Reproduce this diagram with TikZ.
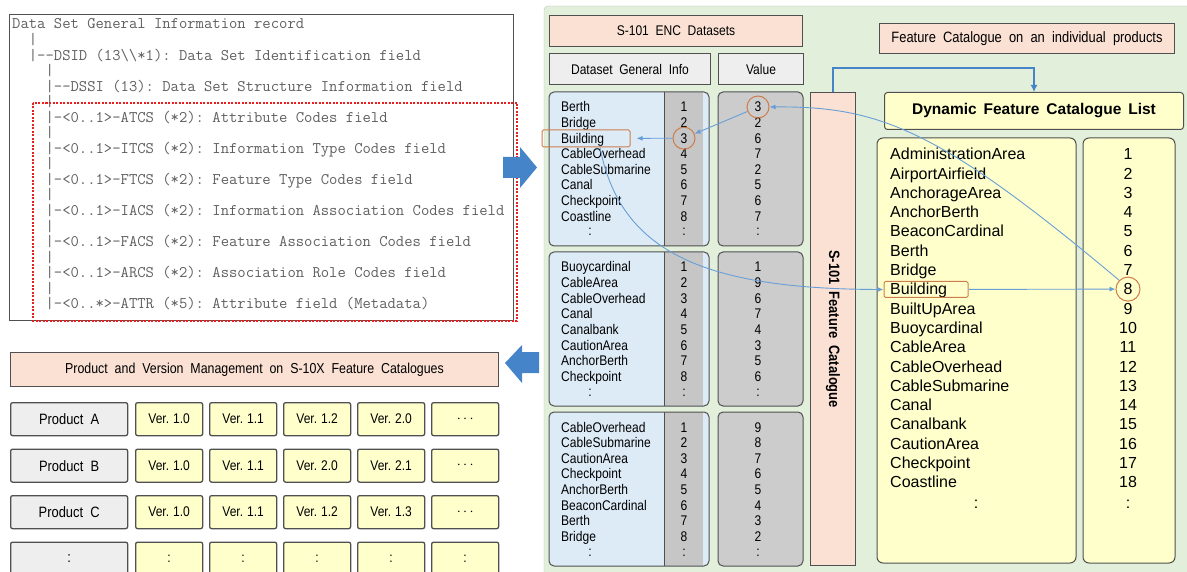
\documentclass[tikz,border=0pt]{standalone}
\usepackage{fontspec}
\newfontfamily\narrowsf[FakeStretch=0.86,WordSpace=2]{Liberation Sans}
\newfontfamily\listsf[WordSpace=1.6]{Liberation Sans}
\usetikzlibrary{calc,arrows.meta}
\frenchspacing

\definecolor{rimgray}{RGB}{80,80,80}
\definecolor{monogray}{RGB}{95,95,95}
\definecolor{alertred}{RGB}{235,30,30}
\definecolor{salmon}{RGB}{250,225,212}
\definecolor{paper}{RGB}{238,238,238}
\definecolor{iceblue}{RGB}{221,235,247}
\definecolor{idxgray}{RGB}{198,198,198}
\definecolor{valgray}{RGB}{204,204,204}
\definecolor{butter}{RGB}{255,255,204}
\definecolor{mint}{RGB}{226,239,218}
\definecolor{linkblue}{RGB}{105,158,215}
\definecolor{feedblue}{RGB}{70,132,202}
\definecolor{rust}{RGB}{205,125,75}

\begin{document}
\begin{tikzpicture}[x=1pt,y=-1pt,
    mono/.style={anchor=west, inner sep=0pt, text height=9.9pt, text depth=0pt, text=monogray,
      font=\ttfamily\fontsize{16.2}{16}\selectfont},
    tagbox/.style={draw=rimgray, line width=1pt, inner sep=0pt, anchor=north west,
      font=\narrowsf\fontsize{14}{14}\selectfont},
    hdr/.style={tagbox, fill=salmon},
    colhdr/.style={tagbox, fill=paper},
    prod/.style={tagbox, fill=paper, rounded corners=2pt, line width=1.3pt,
      minimum width=117, minimum height=33, font=\narrowsf\fontsize{15}{15}\selectfont},
    ver/.style={prod, fill=butter, minimum width=67, font=\narrowsf\fontsize{14}{14}\selectfont},
    dsname/.style={anchor=west, inner sep=0pt, text height=10pt, text depth=0pt,
      font=\narrowsf\fontsize{14}{14}\selectfont},
    dsnum/.style={dsname, anchor=center},
    catname/.style={dsname, text height=11.5pt, font=\listsf\fontsize{16}{16}\selectfont},
    catnum/.style={catname, anchor=center},
    ring/.style={circle, draw=rust, line width=1pt, minimum size=22},
    markbox/.style={draw=rust, line width=1pt, rounded corners=1.5pt, inner sep=0pt},
    conn/.style={linkblue, line width=0.9pt, -{Latex[length=6pt,width=5pt]}},
    feed/.style={feedblue, line width=2.4pt, -{Latex[length=7pt,width=7pt]}}
  ]
  \useasboundingbox (0,0) rectangle (1187,572);

  % record structure
  \draw[rimgray, line width=0.8pt] (9,14) rectangle (513,320);
  \foreach \ln [count=\i from 0] in {
      {Data Set General Information record},
      {~~|},
      {~~|--DSID (13\textbackslash\textbackslash*1): Data Set Identification field},
      {~~~~|},
      {~~~~|--DSSI (13): Data Set Structure Information field},
      {~~~~|},
      {~~~~|-<0..1>-ATCS (*2): Attribute Codes field},
      {~~~~|},
      {~~~~|-<0..1>-ITCS (*2): Information Type Codes field},
      {~~~~|},
      {~~~~|-<0..1>-FTCS (*2): Feature Type Codes field},
      {~~~~|},
      {~~~~|-<0..1>-IACS (*2): Information Association Codes field},
      {~~~~|},
      {~~~~|-<0..1>-FACS (*2): Feature Association Codes field},
      {~~~~|},
      {~~~~|-<0..1>-ARCS (*2): Association Role Codes field},
      {~~~~|},
      {~~~~|-<0..*>-ATTR (*5): Attribute field (Metadata)}}
    \node[mono] (rec\i) at (12,{24+15.55*\i}) {\ln};
  \draw[alertred, line width=1.1pt, dash pattern=on 2pt off 1.5pt] (33,103) rectangle (517,321);

  % block arrows
  \fill[feedblue] (503,157) -- (520,157) -- (520,147) -- (537,167.5) -- (520,188)
    -- (520,178) -- (503,178) -- cycle;
  \fill[feedblue] (505,363) -- (522,345) -- (522,352) -- (539,352) -- (539,373)
    -- (522,373) -- (522,383) -- cycle;

  % products and versions
  \node[hdr, minimum width=488, minimum height=34, font=\narrowsf\fontsize{14.4}{14}\selectfont]
    (pvm) at (10,352) {Product and Version Management on S-10X Feature Catalogues};
  \foreach \p/\vs [count=\r from 0] in {A/{1.0,1.1,1.2,2.0}, B/{1.0,1.1,2.0,2.1}, C/{1.0,1.1,1.2,1.3}} {
    \node[prod] (prod\p) at (10,{402+46.5*\r}) {Product \p};
    \foreach \v [count=\c from 0] in \vs
      \node[ver] (ver\p\c) at ({135+74*\c},{402+46.5*\r}) {Ver.\hspace{4pt}\v};
    \node[ver] (more\p) at (431,{402+46.5*\r}) {$\cdots$};
  }
  \node[prod] (prodx) at (10,541.5) {:};
  \foreach \c in {0,...,4}
    \node[ver] (verx\c) at ({135+74*\c},541.5) {:};

  % dataset panel
  \draw[black!25, fill=mint, rounded corners=4pt] (544,6) rectangle (1195,580);
  \node[hdr, minimum width=253, minimum height=31] (enc) at (549,15) {S-101 ENC Datasets};
  \node[colhdr, minimum width=161, minimum height=31] (dgi) at (549,53) {Dataset General Info};
  \node[colhdr, minimum width=85, minimum height=31] (val) at (718,53) {Value};

  \foreach \names/\vals [count=\b from 0] in {
      {Berth,Bridge,Building,CableOverhead,CableSubmarine,Canal,Checkpoint,Coastline}/{3,2,6,7,2,5,6,7},
      {Buoycardinal,CableArea,CableOverhead,Canal,Canalbank,CautionArea,AnchorBerth,Checkpoint}/{1,9,6,7,4,3,5,6},
      {CableOverhead,CableSubmarine,CautionArea,Checkpoint,AnchorBerth,BeaconCardinal,Berth,Bridge}/{9,8,7,6,5,4,3,2}} {
    \pgfmathsetmacro\yb{92+160*\b}
    \fill[iceblue, rounded corners=5pt] (549,\yb) rectangle (709,{\yb+154});
    \fill[idxgray] (664,\yb) rectangle (703,{\yb+154});
    \draw[rimgray, line width=0.6pt] (664,\yb) -- (664,{\yb+154});
    \draw[rimgray, line width=1pt, rounded corners=5pt] (549,\yb) rectangle (709,{\yb+154});
    \draw[rimgray, line width=1pt, rounded corners=5pt, fill=valgray] (718,\yb) rectangle (803,{\yb+154});
    \foreach \n [count=\k] in \names {
      \node[dsname] (nm\b\k) at (561,{\yb+15.6*\k-0.6}) {\n};
      \node[dsnum] (ix\b\k) at (684,{\yb+15.6*\k-0.6}) {\k};
    }
    \foreach \v [count=\k] in \vals
      \node[dsnum] (vl\b\k) at (758,{\yb+15.6*\k-0.6}) {\v};
    \node[dsnum] (nmdots\b) at (590,{\yb+139}) {:};
    \node[dsnum] (ixdots\b) at (684,{\yb+139}) {:};
    \node[dsnum] (vldots\b) at (758,{\yb+139}) {:};
  }

  \node[hdr, minimum width=45, minimum height=473] (fc) at (810,92) {};
  \node[rotate=-90, font=\narrowsf\bfseries\fontsize{15}{15}\selectfont] (fclabel) at (fc.center)
    {S-101 Feature Catalogue};

  % catalogue on the products
  \node[hdr, minimum width=295, minimum height=30, font=\narrowsf\fontsize{15}{15}\selectfont]
    (fcip) at (879,23) {Feature Catalogue on an individual products};
  \node[tagbox, fill=butter, rounded corners=3pt, minimum width=299, minimum height=37,
    font=\listsf\bfseries\fontsize{15.5}{16}\selectfont] (dfcl) at (884,92) {Dynamic Feature Catalogue List};
  \draw[rimgray, line width=1pt, fill=butter, rounded corners=6pt] (877,138) rectangle (1076,563);
  \draw[rimgray, line width=1pt, fill=butter, rounded corners=6pt] (1083,138) rectangle (1175,563);
  \foreach \n [count=\k] in {AdministrationArea,AirportAirfield,AnchorageArea,AnchorBerth,
      BeaconCardinal,Berth,Bridge,Building,BuiltUpArea,Buoycardinal,CableArea,CableOverhead,
      CableSubmarine,Canal,Canalbank,CautionArea,Checkpoint,Coastline} {
    \node[catname] (cat\k) at (890,{154+19.3*(\k-1)}) {\n};
    \node[catnum] (no\k) at (1128,{154+19.3*(\k-1)}) {\k};
  }
  \node[catnum] (catdots) at (976,503) {:};
  \node[catnum] (nodots) at (1128,503) {:};

  % lookups
  \node[markbox, minimum width=88, minimum height=17] (b1) at (586,138.5) {};
  \node[markbox, minimum width=84, minimum height=16] (b2) at (926,289.5) {};
  \node[ring] (r1) at (vl01) {};
  \node[ring] (r2) at (ix03) {};
  \node[ring, minimum size=24] (r8) at (no8) {};

  \draw[feed] (fc.north) -- ++(0,-24) -| (dfcl.north);
  \draw[conn] (r1) -- (r2);
  \draw[conn, shorten >=6pt] (r2) -- (b1);
  \draw[conn] ($(b1.south)+(14,0)$) .. controls (620,250) and (700,289) .. (b2.west);
  \draw[conn] (b2) -- (r8);
  \draw[conn] (r8.135) .. controls (940,130) and (880,106) .. (r1.east);
\end{tikzpicture}
\end{document}
